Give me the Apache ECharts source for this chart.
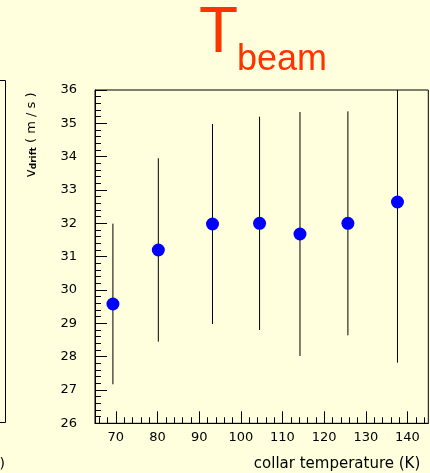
<!DOCTYPE html>
<html>
<head>
<meta charset="utf-8">
<script src="https://cdn.jsdelivr.net/npm/echarts@6/dist/echarts.min.js"></script>
<style>
  html, body { margin: 0; padding: 0; background: #ffffdd; }
  #chart { width: 430px; height: 473px; }
</style>
</head>
<body>
<div id="chart"></div>
<script>
// Drift velocity vs. collar temperature
const tempK   = [69.3, 80.2, 93.2, 104.5, 114.2, 125.7, 137.6];
const vDrift  = [29.58, 31.2, 31.98, 32.0, 31.68, 32.0, 32.64];
const vErr    = [2.41, 2.75, 3.0, 3.2, 3.66, 3.36, 4.82];

const xMajorTicks = [70, 80, 90, 100, 110, 120, 130, 140];
const xMinorTicks = [66, 68, 72, 74, 76, 78, 82, 84, 86, 88, 92, 94, 96, 98,
                     102, 104, 106, 108, 112, 114, 116, 118, 122, 124, 126, 128,
                     132, 134, 136, 138, 142, 144];

const FONT = 'DejaVu Sans';
const chart = echarts.init(document.getElementById('chart'), null, { renderer: 'canvas' });

const points = tempK.map((t, i) => [t, vDrift[i]]);
const bars = tempK.map((t, i) => [t, vDrift[i], vErr[i]]);

chart.setOption({
  backgroundColor: '#ffffdd',
  animation: false,
  grid: { left: 95, right: 1.7, top: 90, bottom: 49.7, show: true, borderColor: '#000', borderWidth: 1, containLabel: false },
  xAxis: [
    {
      type: 'value', min: 65, max: 145, position: 'bottom',
      name: 'collar temperature (K)', nameLocation: 'end', nameGap: -8,
      nameTextStyle: { fontFamily: FONT, fontSize: 15, color: '#000', align: 'right', verticalAlign: 'top', padding: [33, 0, 0, 0] },
      axisLine: { show: true, lineStyle: { color: '#000', width: 1 } },
      axisTick: { show: true, inside: true, length: 12, customValues: xMajorTicks, lineStyle: { color: '#000' } },
      axisLabel: { show: true, customValues: xMajorTicks, margin: 8, fontFamily: FONT, fontSize: 13, color: '#000' },
      splitLine: { show: false }
    },
    {
      type: 'value', min: 65, max: 145, position: 'bottom',
      axisLine: { show: false },
      axisTick: { show: true, inside: true, length: 6, customValues: xMinorTicks, lineStyle: { color: '#000' } },
      axisLabel: { show: false },
      splitLine: { show: false }
    }
  ],
  yAxis: {
    type: 'value', min: 26, max: 36, interval: 1,
    axisLine: { show: true, lineStyle: { color: '#000', width: 1 } },
    axisTick: { show: true, inside: true, length: 12, lineStyle: { color: '#000' } },
    minorTick: { show: true, splitNumber: 5, length: 6, lineStyle: { color: '#000' } },
    axisLabel: { show: true, margin: 18, fontFamily: FONT, fontSize: 13, color: '#000' },
    splitLine: { show: false }
  },
  graphic: [
    { type: 'text', x: 199, y: 34, style: { text: 'T', font: '64px "Liberation Sans"', fill: '#ff3300', align: 'left', verticalAlign: 'middle' } },
    { type: 'text', x: 237, y: 60, style: { text: 'beam', font: '36px "Liberation Sans"', fill: '#ff3300', align: 'left', verticalAlign: 'middle' } },
    {
      type: 'text', x: 31, y: 135, rotation: Math.PI / 2,
      style: {
        text: '{v|v}{s|drift}{u| ( m / s )}',
        align: 'center', verticalAlign: 'middle',
        rich: {
          v: { fontFamily: FONT, fontSize: 14, fill: '#000', verticalAlign: 'bottom' },
          s: { fontFamily: FONT, fontSize: 9, fontWeight: 'bold', fill: '#000', verticalAlign: 'bottom' },
          u: { fontFamily: FONT, fontSize: 13, fill: '#000', verticalAlign: 'bottom' }
        }
      }
    },
    // right edge of the neighbouring panel
    {
      type: 'polyline', silent: true,
      shape: { points: [[0, 80.5], [5.5, 80.5], [5.5, 422.5], [0, 422.5]] },
      style: { stroke: '#000', lineWidth: 1, fill: null }
    },
    { type: 'text', x: 5, y: 464, style: { text: '(K)', font: '14px "DejaVu Sans"', fill: '#000', align: 'right', verticalAlign: 'middle' } }
  ],
  series: [
    {
      type: 'custom', xAxisIndex: 0, yAxisIndex: 0, clip: true, z: 2,
      data: bars,
      renderItem: function (params, api) {
        const x = api.value(0), y = api.value(1), e = api.value(2);
        const lo = api.coord([x, y - e]);
        const hi = api.coord([x, y + e]);
        return {
          type: 'line',
          shape: { x1: lo[0], y1: lo[1], x2: hi[0], y2: hi[1] },
          style: { stroke: '#000', lineWidth: 1 }
        };
      }
    },
    {
      type: 'scatter', xAxisIndex: 0, yAxisIndex: 0, z: 3,
      symbol: 'circle', symbolSize: 13,
      itemStyle: { color: '#0000ff', opacity: 1 },
      data: points
    }
  ]
});
</script>
</body>
</html>
